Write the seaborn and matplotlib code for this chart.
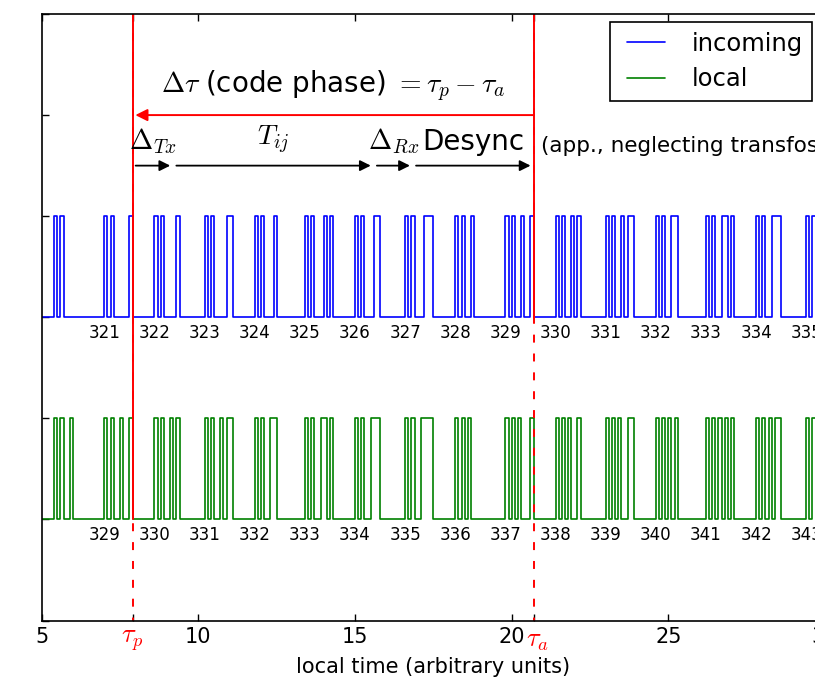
import matplotlib
matplotlib.use('Agg')
import matplotlib.pyplot as plt
import matplotlib.transforms as mtransforms
from matplotlib.lines import Line2D
from matplotlib.legend_handler import HandlerLine2D
import pandas as pd
import seaborn as sns

# ---------------- data ----------------
symbol_ids = list(range(320, 344))
chip_codes = [
    '101000000', '101000001', '101000010', '101000011',
    '101000100', '101000101', '101000110', '101000111',
    '101001000', '101001001', '101001010', '101001011',
    '101001100', '101001101', '101001110', '101001111',
    '101010000', '101010001', '101010010', '101010011',
    '101010100', '101010101', '101010110', '101010111',
]
series_names = ['incoming', 'local']
series_first_symbol = [320, 328]
series_low = [3, 1]
series_colors = ['#0000ff', '#008000']
symbols_shown = 16
row_start = 5.4
chip_width = 0.1
chips_per_symbol = 16

tau_p = 7.9
tau_a = 20.7
segment_edges = [7.9, 9.2, 15.6, 16.85, 20.7]
segment_labels = [r'$\Delta_{Tx}$', r'$T_{ij}$', r'$\Delta_{Rx}$', 'Desync']
num_ticks = [5, 10, 15, 20, 25, 30]
num_tick_labels = ['5', '10', '15', '20', '25', '30']

RED = '#ff0000'

# ---------------- build step waveforms ----------------
code_of = dict(zip(symbol_ids, chip_codes))
rows = []
for name, first, low in zip(series_names, series_first_symbol, series_low):
    rows.append((4.0, low, name))
    for k in range(symbols_shown):
        start = row_start + k * chips_per_symbol * chip_width
        bits = code_of[first + k].ljust(chips_per_symbol, '0')
        for i, b in enumerate(bits):
            rows.append((start + i * chip_width, low + int(b), name))
    rows.append((row_start + symbols_shown * chips_per_symbol * chip_width, low, name))
df = pd.DataFrame(rows, columns=['t', 'level', 'signal'])

# ---------------- style ----------------
sns.set_theme(style='white')
plt.rcParams.update({
    'font.family': 'DejaVu Sans',
    'mathtext.fontset': 'cm',
    'axes.edgecolor': 'black',
    'axes.linewidth': 1.2,
    'xtick.color': 'black',
    'ytick.color': 'black',
    'text.color': 'black',
    'axes.labelcolor': 'black',
})

fig = plt.figure(figsize=(8.15, 6.79), dpi=100)
ax = fig.add_axes([41.7 / 815, 58.5 / 679, (825 - 41.7) / 815, 606.5 / 679])

sns.lineplot(data=df, x='t', y='level', hue='signal',
             palette=dict(zip(series_names, series_colors)),
             estimator=None, sort=False, drawstyle='steps-post',
             linewidth=1.2, ax=ax)

ax.set_xlim(5, 30)
ax.set_ylim(0, 6)

# symbol numbers under each row
for first, low in zip(series_first_symbol, series_low):
    for k in range(1, symbols_shown):
        ax.text(row_start + k * chips_per_symbol * chip_width, low - 0.07,
                str(first + k), ha='center', va='top', fontsize=12, color='black')

# red vertical markers
for tau, solid_to in [(tau_p, 1), (tau_a, 3)]:
    ax.plot([tau, tau], [6, 0], color=RED, lw=1.4, dashes=(4.1, 5.6))
    ax.plot([tau, tau], [6, solid_to], color=RED, lw=1.4)

# code phase arrow
ax.annotate('', xy=(tau_p, 5), xytext=(tau_a, 5),
            arrowprops=dict(arrowstyle='-|>', color=RED, lw=1.4,
                            shrinkA=0, shrinkB=2, mutation_scale=18))
ax.text((tau_p + tau_a) / 2, 5.22,
        r'$\Delta\tau$ (code phase) $=\tau_p - \tau_a$',
        ha='center', va='baseline', fontsize=20)

# delay decomposition arrows
for a, b, lab in zip(segment_edges[:-1], segment_edges[1:], segment_labels):
    ax.annotate('', xy=(b, 4.5), xytext=(a, 4.5),
                arrowprops=dict(arrowstyle='-|>', color='black', lw=1.3,
                                shrinkA=2.2, shrinkB=2.2, mutation_scale=16))
    ax.text((a + b) / 2, 4.6, lab, ha='center', va='bottom', fontsize=20)
ax.text(tau_a + 0.25, 4.6, '(app., neglecting transfos)',
        ha='left', va='bottom', fontsize=15.5)

# ticks
ax.set_xticks(num_ticks + [tau_p, tau_a])
ax.set_xticklabels(num_tick_labels + [r'$\tau_p$', r'$\tau_a$'])
ax.set_yticks(range(0, 7))
ax.set_yticklabels([])
ax.tick_params(direction='in', top=True, right=True, bottom=True, left=True,
               length=5, width=1, labelsize=15, pad=4.5)
tick_lbls = ax.get_xticklabels()
for lbl in tick_lbls[-2:]:
    lbl.set_color(RED)
    lbl.set_fontsize(19)
# nudge tau_a label slightly right, as in the reference
tick_lbls[-1].set_transform(tick_lbls[-1].get_transform() +
                            mtransforms.ScaledTranslation(3.5 / 100, 0, fig.dpi_scale_trans))
ax.set_ylabel('')
ax.set_xlabel('local time (arbitrary units)', fontsize=15, labelpad=3)

sns.move_legend(ax, 'upper right', bbox_to_anchor=(812.5 / 815, (679 - 22) / 679),
                bbox_transform=fig.transFigure, borderaxespad=0, title=None,
                frameon=True, fontsize=17.5, handlelength=1.86, handletextpad=1.1,
                borderpad=0.4, labelspacing=0.47, fancybox=False,
                edgecolor='black', framealpha=1,
                handler_map={Line2D: HandlerLine2D(xpad=0.3)})
leg = ax.get_legend()
leg.get_frame().set_linewidth(1.2)

fig.savefig('out.png', dpi=100)
